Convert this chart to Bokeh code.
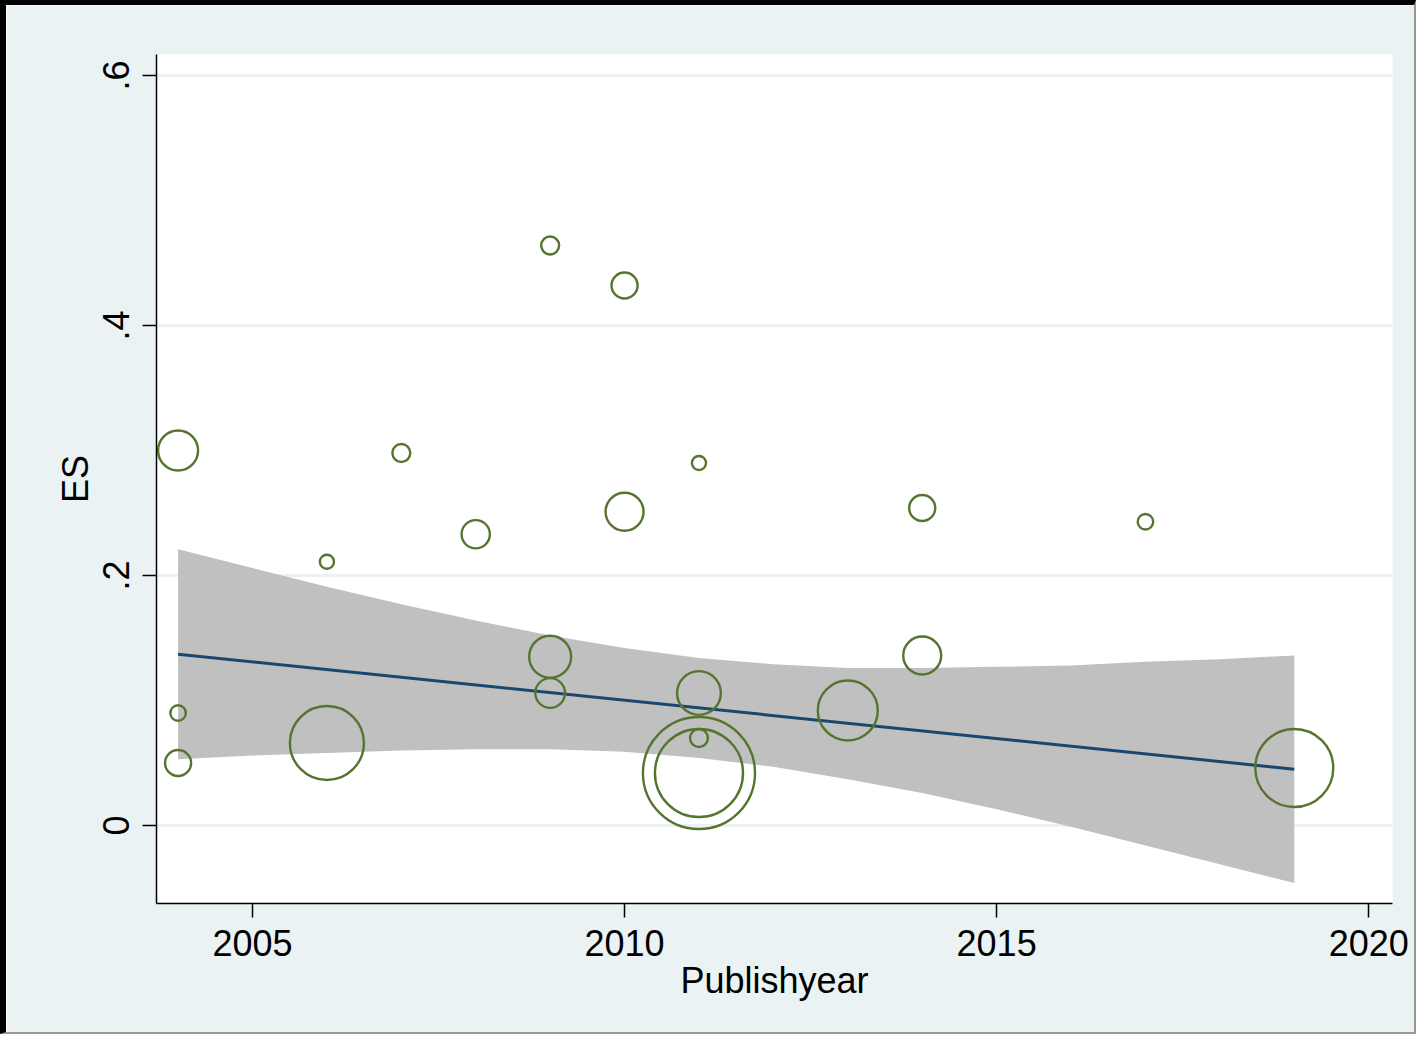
from bokeh.plotting import figure
from bokeh.models import ColumnDataSource, FixedTicker, Range1d
from bokeh.embed import file_html
from bokeh.resources import INLINE

# ---- data ----
years = [2004, 2004, 2004, 2006, 2006, 2007, 2008, 2009, 2009, 2009, 2010, 2010,
         2011, 2011, 2011, 2011, 2011, 2013, 2014, 2014, 2017, 2019]
es = [0.300, 0.090, 0.050, 0.211, 0.066, 0.298, 0.233, 0.464, 0.135, 0.106, 0.432, 0.251,
      0.290, 0.106, 0.070, 0.042, 0.042, 0.092, 0.254, 0.136, 0.243, 0.046]
weight = [4.0, 0.6, 1.7, 0.5, 13.7, 0.8, 2.0, 0.8, 4.4, 2.2, 1.7, 3.6,
          0.5, 4.8, 0.8, 31.4, 19.4, 9.0, 1.7, 3.6, 0.6, 15.2]

fit_years = [2004, 2019]
fit_es = [0.137, 0.045]

band_years = [2004, 2005, 2006, 2007, 2008, 2009, 2010, 2011, 2012, 2013, 2014, 2015,
              2016, 2017, 2018, 2019]
band_upper = [0.221, 0.206, 0.191, 0.177, 0.164, 0.152, 0.142, 0.134, 0.129, 0.126,
              0.126, 0.127, 0.128, 0.131, 0.133, 0.136]
band_lower = [0.053, 0.056, 0.058, 0.060, 0.061, 0.061, 0.059, 0.054, 0.047, 0.037,
              0.026, 0.013, -0.001, -0.016, -0.031, -0.046]

x_ticks = [2005, 2010, 2015, 2020]
y_ticks = [0, 0.2, 0.4, 0.6]
y_tick_labels = ["0", ".2", ".4", ".6"]

BG = "#EAF2F3"
FONT = "Liberation Sans"

p = figure(width=1416, height=1034, output_backend="svg", toolbar_location=None,
           x_range=Range1d(2003.71, 2020.32), y_range=Range1d(-0.0624, 0.6168),
           min_border_left=150, min_border_right=30, min_border_top=49,
           min_border_bottom=136)
p.styles = {"border-left": "6px solid black", "border-top": "5px solid black",
            "border-right": "2px solid #999999", "border-bottom": "2px solid #999999"}
p.background_fill_color = "white"
p.border_fill_color = BG
p.outline_line_color = None

band_src = ColumnDataSource(dict(x=band_years, lo=band_lower, hi=band_upper))
p.varea(x="x", y1="lo", y2="hi", source=band_src, fill_color="#C0C0C0")
p.line(fit_years, fit_es, line_color="#1A476F", line_width=3)

sizes = [2 * 10 * (w ** 0.5) for w in weight]
src = ColumnDataSource(dict(x=years, y=es, s=sizes))
p.scatter("x", "y", size="s", source=src, marker="circle", fill_color=None,
          line_color="#55752F", line_width=2.4)

p.xgrid.visible = False
p.ygrid.ticker = FixedTicker(ticks=y_ticks)
p.ygrid.grid_line_color = BG
p.ygrid.grid_line_width = 3

p.xaxis.ticker = FixedTicker(ticks=x_ticks)
p.yaxis.ticker = FixedTicker(ticks=y_ticks)
p.yaxis.major_label_overrides = {t: l for t, l in zip(y_ticks, y_tick_labels)}
p.yaxis.major_label_orientation = "vertical"

for ax in (p.xaxis[0], p.yaxis[0]):
    ax.axis_line_color = "black"
    ax.axis_line_width = 1.5
    ax.major_tick_line_color = "black"
    ax.major_tick_line_width = 1.5
    ax.major_tick_out = 14
    ax.major_tick_in = 0
    ax.minor_tick_line_color = None
    ax.major_label_text_font = FONT
    ax.major_label_text_font_size = "36px"
    ax.major_label_text_color = "black"
    ax.axis_label_text_font = FONT
    ax.axis_label_text_font_size = "36px"
    ax.axis_label_text_font_style = "normal"
    ax.axis_label_text_color = "black"

p.xaxis.axis_label = "Publishyear"
p.yaxis.axis_label = "ES"
p.xaxis.major_label_standoff = 12
p.yaxis.major_label_standoff = 14
p.xaxis.axis_label_standoff = 1
p.yaxis.axis_label_standoff = 4

open("out.html", "w").write(file_html(p, INLINE))
